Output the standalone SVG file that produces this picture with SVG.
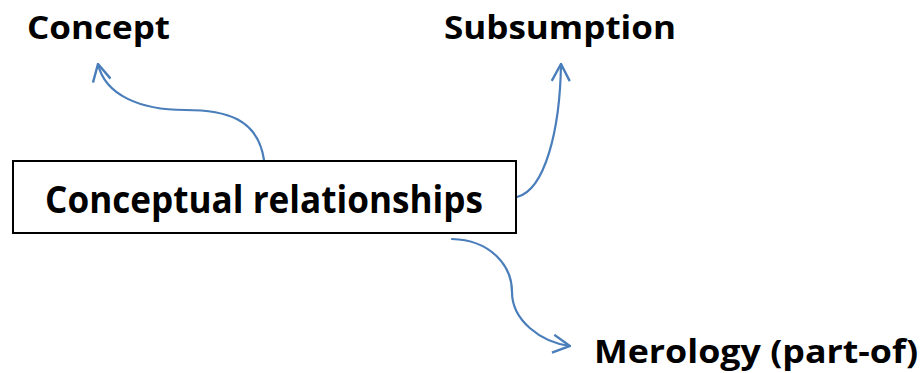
<svg xmlns="http://www.w3.org/2000/svg" width="924" height="373" viewBox="0 0 924 373">
<style>
.lbl{font-family:"Open Sans","Liberation Sans",sans-serif;font-weight:bold;fill:#000}
.con{fill:none;stroke:#4a7ebb;stroke-width:2.2;stroke-linecap:round}
</style>
<defs>
<marker id="arr" viewBox="0 0 20 20" refX="19" refY="10" markerWidth="20" markerHeight="20" markerUnits="userSpaceOnUse" orient="auto">
<path d="M2,1 L19,10 L2,19" fill="none" stroke="#4a7ebb" stroke-width="2.4"/>
</marker>
</defs>
<rect width="924" height="373" fill="#fff"/>
<g id="connectors">
<path class="con" d="M264,160 C258,118 225,110 185,110 C140,110 105,95 98,64" marker-end="url(#arr)"/>
<path class="con" d="M517,197 C545,190 560,130 561,64" marker-end="url(#arr)"/>
<path class="con" d="M452,239 C490,240 512,265 512,292 C512,320 540,342 570,346" marker-end="url(#arr)"/>
</g>
<g id="n-main">
<rect x="13" y="161" width="503" height="72" fill="#fff" stroke="#000" stroke-width="2"/>
<text class="lbl" x="264" y="213" font-size="38" text-anchor="middle" textLength="438" lengthAdjust="spacingAndGlyphs">Conceptual relationships</text>
</g>
<g id="n-concept">
<text class="lbl" x="27" y="39" font-size="33" textLength="143" lengthAdjust="spacingAndGlyphs">Concept</text>
</g>
<g id="n-subsumption">
<text class="lbl" x="444" y="39" font-size="33" textLength="232" lengthAdjust="spacingAndGlyphs">Subsumption</text>
</g>
<g id="n-merology">
<text class="lbl" x="594" y="363" font-size="32" textLength="324" lengthAdjust="spacingAndGlyphs">Merology (part-of)</text>
</g>
</svg>
